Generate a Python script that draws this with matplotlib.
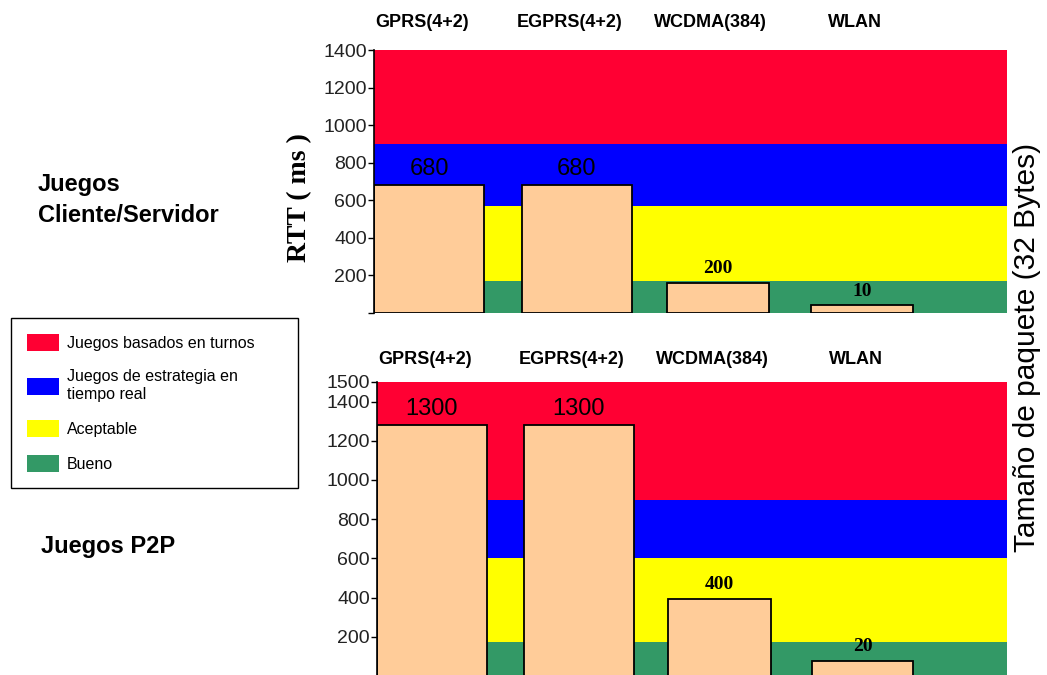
"""Two stacked RTT bar charts over quality bands (cliente/servidor vs P2P)."""

import matplotlib
matplotlib.use("Agg")
import matplotlib.pyplot as plt
from matplotlib.patches import Patch

plt.rcParams["font.family"] = ["Liberation Sans", "DejaVu Sans"]

# --- data -------------------------------------------------------------
categories = ["GPRS(4+2)", "EGPRS(4+2)", "WCDMA(384)", "WLAN"]

cs_heights = [680, 680, 162, 40]          # as drawn in the picture
cs_labels = ["680", "680", "200", "10"]
cs_band_edges = [0, 170, 570, 900, 1400]
cs_ticks = [0, 200, 400, 600, 800, 1000, 1200, 1400]

p2p_heights = [1280, 1280, 395, 77]
p2p_labels = ["1300", "1300", "400", "20"]
p2p_band_edges = [0, 175, 600, 900, 1500]
p2p_ticks = [200, 400, 600, 800, 1000, 1200, 1400, 1500]

band_names = ["Bueno", "Aceptable",
              "Juegos de estrategia en\ntiempo real",
              "Juegos basados en turnos"]
band_colors = ["#339966", "#FFFF00", "#0000FF", "#FF0033"]
bar_color = "#FFCC99"

# --- layout -----------------------------------------------------------
W, H = 1047, 675
fig = plt.figure(figsize=(W / 100, H / 100), dpi=100)
bar_widths = [0.76, 0.76, 0.71, 0.70]


def px_axes(x0, y0, x1, y1):
    """Axes from pixel box (top-left origin)."""
    return fig.add_axes([x0 / W, 1 - y1 / H, (x1 - x0) / W, (y1 - y0) / H])


def draw_panel(ax, heights, labels, edges, ticks, ymax, big_labels,
               cat_y, small_offset):
    for lo, hi, color in zip(edges[:-1], edges[1:], band_colors):
        ax.axhspan(lo, hi, color=color, lw=0, zorder=0)

    x = [i + 0.02 * (i > 0) for i in range(len(heights))]
    bars = ax.bar(x, heights, width=bar_widths, align="edge", color=bar_color,
                  edgecolor="black", linewidth=1.3, zorder=2)

    for i, (bar, text) in enumerate(zip(bars, labels)):
        cx = bar.get_x() + bar.get_width() / 2
        if i in big_labels:
            ax.annotate(text, (cx, bar.get_height()), xytext=(0, 4),
                        textcoords="offset points", ha="center", va="bottom",
                        fontsize=17, zorder=3)
        else:
            ax.annotate(text, (cx, bar.get_height()),
                        xytext=(0, small_offset), textcoords="offset points",
                        ha="center", va="bottom", fontsize=14,
                        fontweight="bold", family="Liberation Serif",
                        zorder=3)
        ax.text(cx - 0.05, cat_y, categories[i], transform=ax.get_xaxis_transform(),
                ha="center", va="center", fontsize=13, fontweight="bold")

    ax.set_xlim(0, 4.37)
    ax.set_ylim(0, ymax)
    ax.set_xticks([])
    ax.set_yticks(ticks)
    ax.set_yticklabels(["" if t == 0 else str(t) for t in ticks])
    ax.tick_params(axis="y", length=4, width=1, pad=1, labelsize=14,
                   labelcolor="#222222")
    for side in ("top", "right", "bottom"):
        ax.spines[side].set_visible(False)
    ax.spines["left"].set_linewidth(1.2)


ax_cs = px_axes(374, 50, 1007, 313)
draw_panel(ax_cs, cs_heights, cs_labels, cs_band_edges, cs_ticks, 1400,
           big_labels=(0, 1), cat_y=1.105, small_offset=4)

ax_p2p = px_axes(377, 382, 1007, 676)
draw_panel(ax_p2p, p2p_heights, p2p_labels, p2p_band_edges, p2p_ticks, 1500,
           big_labels=(0, 1), cat_y=1.075, small_offset=4)

# --- side texts -------------------------------------------------------
fig.text(300 / W, 1 - 198 / H, "RTT ( ms )", rotation=90, ha="center",
         va="center", fontsize=20, fontweight="bold",
         family="Liberation Serif")
fig.text(1027 / W, 1 - 347 / H, "Tamaño de paquete (32 Bytes)", rotation=90,
         ha="center", va="center", fontsize=21.5)
fig.text(38 / W, 1 - 200 / H, "Juegos\nCliente/Servidor", ha="left",
         va="center", fontsize=17, fontweight="bold", linespacing=1.45)
fig.text(41 / W, 1 - 547 / H, "Juegos P2P", ha="left", va="center",
         fontsize=17, fontweight="bold")

# --- legend -----------------------------------------------------------
handles = [Patch(facecolor=c, edgecolor="none") for c in band_colors]
leg = fig.legend(handles[::-1], band_names[::-1], loc="upper left",
                 bbox_to_anchor=(11 / W, 1 - 318 / H, 287 / W, 0.0),
                 mode="expand", borderaxespad=0, borderpad=1.0,
                 handlelength=2.0, handleheight=1.25, handletextpad=0.5,
                 labelspacing=1.15, fontsize=11.5, fancybox=False,
                 framealpha=1, edgecolor="black")
leg.get_frame().set_linewidth(1.0)

fig.savefig("out.png", dpi=100)
